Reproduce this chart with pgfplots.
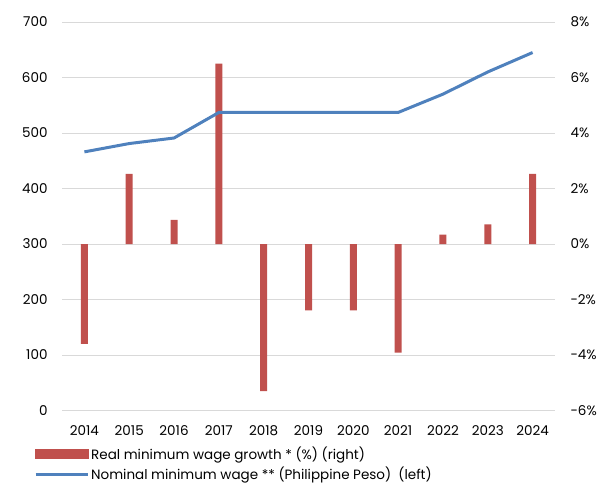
\documentclass[border=0pt]{standalone}
\usepackage{pgfplots}
\pgfplotsset{compat=1.18}
\usepackage{fontspec}
\setmainfont{Poppins}
\definecolor{barred}{HTML}{C0504D}
\definecolor{lineblue}{HTML}{4F81BD}
\definecolor{gridgray}{HTML}{D9D9D9}
\begin{document}
\begin{tikzpicture}
\pgfplotsset{
  common/.style={
    scale only axis, width=493bp, height=388.5bp,
    at={(62bp,75.5bp)}, anchor=south west,
    xmin=-0.5, xmax=10.5,
    axis line style={draw=none}, major tick style={draw=none},
    /pgf/number format/assume math mode=true,
    tick label style={font=\fontsize{13.5bp}{16bp}\selectfont, text=black},
  }
}
\begin{axis}[common,
  axis y line*=right, axis x line*=bottom,
  ymin=-6, ymax=8, ytick={-6,-4,...,8},
  yticklabels={-6\%,-4\%,-2\%,0\%,2\%,4\%,6\%,8\%},
  yticklabel style={anchor=west, xshift=12bp},
  ymajorgrids, grid style={draw=gridgray, line width=1bp},
  xtick={0,...,10},
  xticklabels={2014,2015,2016,2017,2018,2019,2020,2021,2022,2023,2024},
  xticklabel style={yshift=-7bp},
  ybar, bar width=7bp,
]
\addplot[fill=barred, draw=none] coordinates {
(0,-3.6) (1,2.53) (2,0.87) (3,6.5) (4,-5.3) (5,-2.39) (6,-2.39) (7,-3.91) (8,0.34) (9,0.71) (10,2.53)};
\end{axis}
\begin{axis}[common,
  axis y line*=left, axis x line*=bottom,
  ymin=0, ymax=700, ytick={0,100,...,700},
  yticklabel style={xshift=-11bp},
  xtick=\empty,
  legend cell align=left,
  legend style={at={(0,0)}, anchor=north west, xshift=-31bp, yshift=-34bp,
    draw=none, fill=none, font=\fontsize{13.5bp}{16bp}\selectfont,
    row sep=2.5bp, inner ysep=0bp, inner xsep=3bp},
]
\addlegendimage{legend image code/.code={\fill[barred] (0bp,-4.5bp) rectangle (52bp,4.5bp);}}
\addlegendentry{Real minimum wage growth * (\%) (right)}
\addplot[color=lineblue, line width=3bp,
  legend image code/.code={\draw[lineblue, line width=3bp] (0bp,0bp) -- (52bp,0bp);}]
  coordinates {(0,466) (1,481) (2,491) (3,537) (4,537) (5,537) (6,537) (7,537) (8,570) (9,610) (10,645)};
\addlegendentry{Nominal minimum wage ** (Philippine Peso)\ \ (left)}
\end{axis}
\pgfresetboundingbox
\useasboundingbox (0,0) rectangle (605bp,486bp);
\end{tikzpicture}
\end{document}
